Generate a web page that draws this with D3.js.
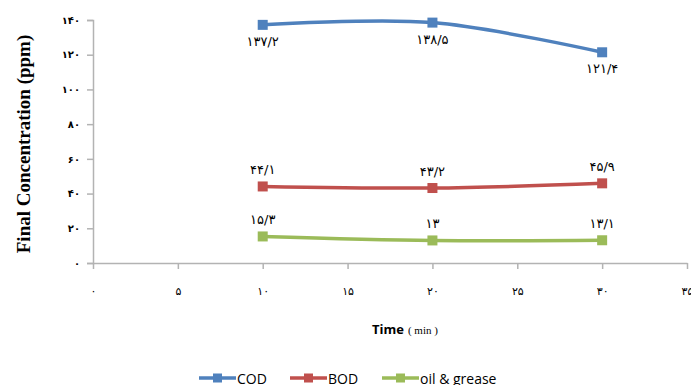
<!DOCTYPE html>
<html>
<head>
<meta charset="utf-8">
<script src="https://cdn.jsdelivr.net/npm/d3@7"></script>
<style>
  html, body { margin: 0; padding: 0; background: #fff; }
  svg { display: block; }
</style>
</head>
<body>
<svg id="chart" width="691" height="385"></svg>
<script>
// Sampling times (min)
const times = [10, 20, 30];
// Final concentrations (ppm)
const cod = [137.2, 138.5, 121.4];
const bod = [44.1, 43.2, 45.9];
const oilGrease = [15.3, 13, 13.1];
// Series names and colours
const seriesNames = ["COD", "BOD", "oil & grease"];
const seriesColors = ["#4f81bd", "#c0504d", "#9bbb59"];
// Axis ticks
const xTicks = [0, 5, 10, 15, 20, 25, 30, 35];
const yTicks = [0, 20, 40, 60, 80, 100, 120, 140];

const seriesValues = [cod, bod, oilGrease];
// Label placement: COD below the points, others above
const labelBelow = [true, false, false];

const persianDigits = "۰۱۲۳۴۵۶۷۸۹";
const toPersian = v => String(v).replace(/[0-9]/g, d => persianDigits[+d]).replace(".", "/");

const svg = d3.select("#chart");
const x = d3.scaleLinear().domain([0, 35]).range([93, 687]);
const y = d3.scaleLinear().domain([0, 140]).range([263, 20]);

const axisColor = "#b3b3b3";
const digitFont = "'DejaVu Sans', sans-serif";

// Y axis
const yAxis = svg.append("g")
  .attr("transform", `translate(${x(0)},0)`)
  .call(d3.axisLeft(y).tickValues(yTicks).tickSize(6).tickPadding(7).tickFormat(toPersian));
yAxis.select(".domain").attr("stroke", axisColor).attr("stroke-width", 1.5);
yAxis.selectAll(".tick line").attr("stroke", axisColor).attr("stroke-width", 1.5);
yAxis.selectAll(".tick text")
  .attr("fill", "#000").attr("font-family", digitFont).attr("font-size", 10).attr("font-weight", "bold");

// X axis
const xAxis = svg.append("g")
  .attr("transform", `translate(0,${y(0)})`)
  .call(d3.axisBottom(x).tickValues(xTicks).tickSize(6).tickSizeOuter(0).tickPadding(18).tickFormat(toPersian));
xAxis.select(".domain").attr("stroke", axisColor).attr("stroke-width", 1.5);
xAxis.selectAll(".tick line").attr("stroke", axisColor).attr("stroke-width", 1.5);
xAxis.selectAll(".tick text")
  .attr("fill", "#000").attr("font-family", digitFont).attr("font-size", 11);

// Axis titles
svg.append("text")
  .attr("transform", "translate(30,144) rotate(-90)")
  .attr("text-anchor", "middle")
  .attr("font-family", "'Liberation Serif', 'Times New Roman', serif")
  .attr("font-weight", "bold")
  .attr("font-size", 19)
  .text("Final Concentration (ppm)");

const xt = svg.append("text")
  .attr("x", 372).attr("y", 334)
  .attr("font-family", "'Open Sans', 'Liberation Sans', sans-serif");
xt.append("tspan").attr("font-weight", "bold").attr("font-size", 13).text("Time");
xt.append("tspan").attr("font-family", "'Liberation Serif', serif").attr("font-size", 11).attr("dx", 4).text("( min )");

// Series lines, markers, labels
const line = d3.line()
  .x((d, i) => x(times[i]))
  .y(d => y(d))
  .curve(d3.curveCatmullRom.alpha(0.5));

seriesValues.forEach((vals, s) => {
  const g = svg.append("g");
  g.append("path")
    .attr("d", line(vals))
    .attr("fill", "none")
    .attr("stroke", seriesColors[s])
    .attr("stroke-width", 3.5);
  g.selectAll("rect").data(vals).join("rect")
    .attr("x", (d, i) => x(times[i]) - 5)
    .attr("y", d => y(d) - 5)
    .attr("width", 10).attr("height", 10)
    .attr("fill", seriesColors[s]);
  g.selectAll("text").data(vals).join("text")
    .attr("x", (d, i) => x(times[i]))
    .attr("y", d => y(d) + (labelBelow[s] ? 21 : -12))
    .attr("text-anchor", "middle")
    .attr("font-family", digitFont)
    .attr("font-size", 13)
    .attr("fill", "#000")
    .text(d => toPersian(d));
});

// Legend
const legendX = [199, 290, 382];
const legendY = 378;
seriesNames.forEach((name, s) => {
  const lg = svg.append("g").attr("transform", `translate(${legendX[s]},${legendY})`);
  lg.append("line").attr("x1", 0).attr("x2", 37).attr("y1", 0).attr("y2", 0)
    .attr("stroke", seriesColors[s]).attr("stroke-width", 3.5);
  lg.append("rect").attr("x", 14).attr("y", -4.5).attr("width", 9).attr("height", 9)
    .attr("fill", seriesColors[s]);
  lg.append("text").attr("x", 38).attr("y", 5.5)
    .attr("font-family", "'Open Sans', 'Liberation Sans', sans-serif")
    .attr("font-size", 14).attr("fill", "#000")
    .text(name);
});
</script>
</body>
</html>
